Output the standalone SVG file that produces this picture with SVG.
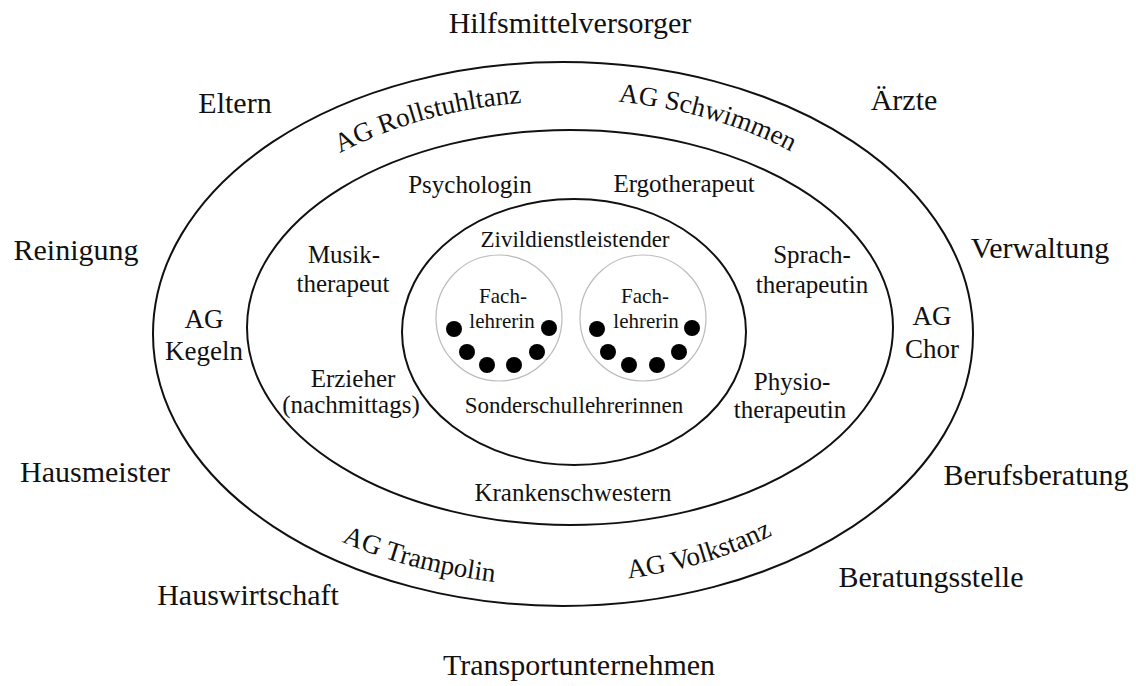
<svg xmlns="http://www.w3.org/2000/svg" width="1136" height="686" viewBox="0 0 1136 686">
<style>
  text { font-family: "Liberation Serif", "Times New Roman", serif; fill: #111; text-anchor: middle; }
  .outer { font-size: 30px; }
  .ag { font-size: 27px; }
  .mid { font-size: 25px; }
  .inner { font-size: 23px; }
  .fach { font-size: 21px; }
  .ring { fill: none; stroke: #111; stroke-width: 2; }
  .circ { fill: none; stroke: #bbb; stroke-width: 1.2; }
  .dot { fill: #000; }
</style>
<defs>
  <path id="pRoll" d="M340,153 A358,231 0 0,1 601.8,102.2"/>
  <path id="pSchw" d="M618.3,101.7 A358,231 0 0,1 852.4,193.4"/>
  <path id="pTramp" d="M341.7,541.7 A397,254 0 0,0 566,586"/>
  <path id="pVolk" d="M628.3,578.3 A354,250 0 0,0 849.2,482"/>
</defs>
<rect width="1136" height="686" fill="#fff"/>

<g id="rings">
  <ellipse class="ring" cx="563" cy="334" rx="410" ry="272"/>
  <ellipse class="ring" cx="570" cy="327.5" rx="323" ry="197.5"/>
  <ellipse class="ring" cx="574" cy="332" rx="172" ry="133"/>
  <circle class="circ" cx="499" cy="318" r="63"/>
  <circle class="circ" cx="643" cy="318" r="63"/>
</g>
<g id="connectors"></g>

<g id="outer-labels" class="outer">
  <text id="n-hilfsmittel" x="570" y="33">Hilfsmittelversorger</text>
  <text id="n-eltern" x="235" y="113">Eltern</text>
  <text id="n-aerzte" x="904" y="110">Ärzte</text>
  <text id="n-reinigung" x="76" y="260">Reinigung</text>
  <text id="n-verwaltung" x="1040" y="258">Verwaltung</text>
  <text id="n-hausmeister" x="95" y="482">Hausmeister</text>
  <text id="n-berufsberatung" x="1036" y="485">Berufsberatung</text>
  <text id="n-hauswirtschaft" x="248" y="605">Hauswirtschaft</text>
  <text id="n-beratungsstelle" x="931" y="587">Beratungsstelle</text>
  <text id="n-transport" x="579" y="675">Transportunternehmen</text>
</g>

<g id="ag-labels" class="ag">
  <text id="n-rollstuhltanz" style="text-anchor:start"><textPath href="#pRoll">AG Rollstuhltanz</textPath></text>
  <text id="n-schwimmen" style="text-anchor:start"><textPath href="#pSchw">AG Schwimmen</textPath></text>
  <text id="n-trampolin" style="text-anchor:start"><textPath href="#pTramp">AG Trampolin</textPath></text>
  <text id="n-volkstanz" style="text-anchor:start"><textPath href="#pVolk">AG Volkstanz</textPath></text>
  <g id="n-kegeln">
    <text x="204" y="328">AG</text>
    <text x="204" y="360">Kegeln</text>
  </g>
  <g id="n-chor">
    <text x="932" y="325">AG</text>
    <text x="932" y="358">Chor</text>
  </g>
</g>

<g id="mid-labels" class="mid">
  <text id="n-psychologin" x="470" y="193">Psychologin</text>
  <text id="n-ergotherapeut" x="684" y="192">Ergotherapeut</text>
  <g id="n-musik">
    <text x="344" y="263">Musik-</text>
    <text x="343" y="292">therapeut</text>
  </g>
  <g id="n-sprach">
    <text x="812" y="263">Sprach-</text>
    <text x="812" y="293">therapeutin</text>
  </g>
  <g id="n-erzieher">
    <text x="353" y="387">Erzieher</text>
    <text x="351" y="413">(nachmittags)</text>
  </g>
  <g id="n-physio">
    <text x="792" y="390">Physio-</text>
    <text x="790" y="418">therapeutin</text>
  </g>
  <text id="n-kranken" x="573" y="501">Krankenschwestern</text>
</g>

<g id="inner-labels">
  <text id="n-zivi" class="inner" x="575" y="247">Zivildienstleistender</text>
  <text id="n-sonder" class="inner" x="574" y="413">Sonderschullehrerinnen</text>
  <g id="n-fach1" class="fach">
    <text x="503" y="303">Fach-</text>
    <text x="502" y="328">lehrerin</text>
  </g>
  <g id="n-fach2" class="fach">
    <text x="645" y="303">Fach-</text>
    <text x="646" y="328">lehrerin</text>
  </g>
</g>

<g id="pupils">
  <circle class="dot" cx="454" cy="329" r="8"/>
  <circle class="dot" cx="467" cy="352" r="8"/>
  <circle class="dot" cx="487" cy="365" r="8"/>
  <circle class="dot" cx="514" cy="365" r="8"/>
  <circle class="dot" cx="537" cy="352" r="8"/>
  <circle class="dot" cx="549" cy="328" r="8"/>
  <circle class="dot" cx="597" cy="329" r="8"/>
  <circle class="dot" cx="608" cy="352" r="8"/>
  <circle class="dot" cx="629" cy="365" r="8"/>
  <circle class="dot" cx="657" cy="365" r="8"/>
  <circle class="dot" cx="679" cy="352" r="8"/>
  <circle class="dot" cx="692" cy="328" r="8"/>
</g>
</svg>
